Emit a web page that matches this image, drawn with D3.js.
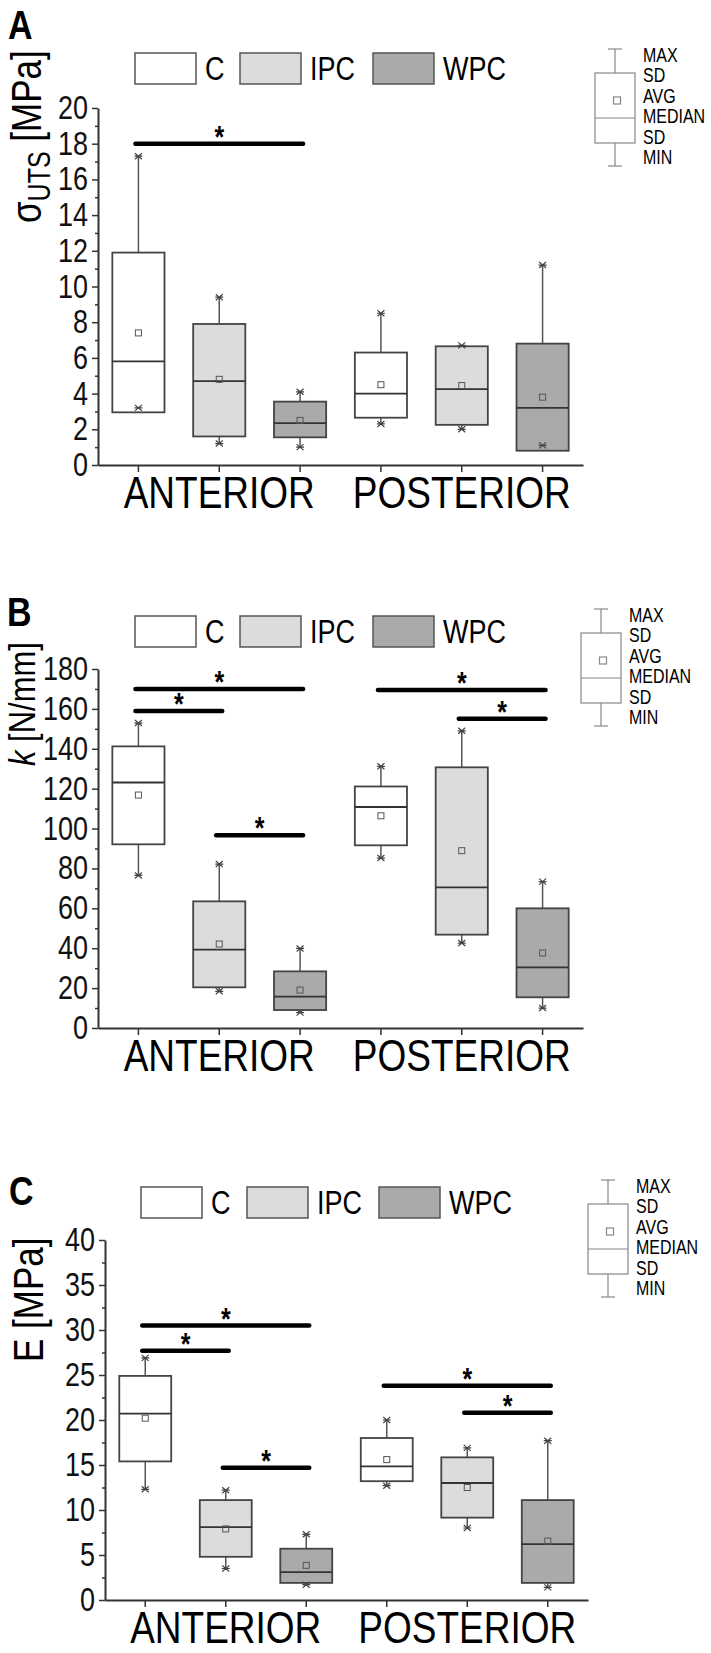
<!DOCTYPE html>
<html>
<head>
<meta charset="utf-8">
<script src="https://cdn.jsdelivr.net/npm/d3@7"></script>
<style>
  body { margin: 0; background: #fff; }
  text { font-family: "Liberation Sans", Arial, sans-serif; }
</style>
</head>
<body>
<div id="chart"></div>
<script>
// categories
const groups = ["C", "IPC", "WPC"];
const regions = ["ANTERIOR", "POSTERIOR"];
const slots = ["ANT-C", "ANT-IPC", "ANT-WPC", "POST-C", "POST-IPC", "POST-WPC"];
const keyLabels = ["MAX", "SD", "AVG", "MEDIAN", "SD", "MIN"];

// A: ultimate tensile strength [MPa]
const utsMax    = [17.3, 9.4, 4.1, 8.5, 6.7, 11.2];
const utsSdTop  = [11.9, 7.9, 3.55, 6.3, 6.65, 6.8];
const utsMean   = [7.4, 4.8, 2.5, 4.5, 4.45, 3.8];
const utsMedian = [5.8, 4.7, 2.35, 4.0, 4.25, 3.2];
const utsSdBot  = [2.95, 1.6, 1.55, 2.65, 2.25, 0.8];
const utsMin    = [3.2, 1.2, 1.0, 2.3, 2.0, 1.1];
const utsSig    = [[0, 2, 18.0]];
const utsTicks  = [0, 2, 4, 6, 8, 10, 12, 14, 16, 18, 20];
const utsMinor  = [1, 3, 5, 7, 9, 11, 13, 15, 17, 19];

// B: stiffness k [N/mm]
const kMax    = [152.9, 82.2, 39.9, 131.2, 149.0, 73.4];
const kSdTop  = [141.2, 63.5, 28.4, 121.1, 130.7, 60.0];
const kMean   = [116.8, 42.1, 19.0, 106.4, 88.9, 37.6];
const kMedian = [123.1, 39.3, 15.7, 110.8, 70.5, 30.4];
const kSdBot  = [92.1, 20.4, 9.0, 91.6, 46.8, 15.4];
const kMin    = [76.5, 18.4, 7.7, 85.2, 42.6, 10.0];
const kSig    = [[0, 2, 170], [0, 1, 159], [1, 2, 96.6], [3, 5, 169.5], [4, 5, 155]];
const kTicks  = [0, 20, 40, 60, 80, 100, 120, 140, 160, 180];
const kMinor  = [10, 30, 50, 70, 90, 110, 130, 150, 170];

// C: elastic modulus E [MPa]
const eMax    = [26.9, 12.2, 7.3, 20.0, 16.9, 17.7];
const eSdTop  = [24.9, 11.1, 5.7, 18.0, 15.85, 11.1];
const eMean   = [20.2, 7.9, 3.85, 15.6, 12.5, 6.55];
const eMedian = [20.7, 8.1, 3.1, 14.85, 13.0, 6.2];
const eSdBot  = [15.4, 4.8, 1.9, 13.2, 9.15, 1.9];
const eMin    = [12.3, 3.5, 1.7, 12.7, 8.0, 1.4];
const eSig    = [[0, 2, 30.5], [0, 1, 27.7], [1, 2, 14.7], [3, 5, 23.8], [4, 5, 20.8]];
const eTicks  = [0, 5, 10, 15, 20, 25, 30, 35, 40];
const eMinor  = [2.5, 7.5, 12.5, 17.5, 22.5, 27.5, 32.5, 37.5];

const fills = ["#ffffff", "#dcdcdc", "#aaaaaa"];
const W = 711, H = 1653;
const STRETCH = 1.22; // the original lettering is tall and narrow

const svg = d3.select("#chart").append("svg")
  .attr("width", W).attr("height", H)
  .style("background", "#fff");

// move x/y into a transform so the glyphs can be drawn taller
function stretch(sel) {
  sel.each(function() {
    const t = d3.select(this);
    const x = +t.attr("x") || 0, y = +t.attr("y") || 0;
    t.attr("x", null).attr("y", null)
      .attr("transform", `translate(${x},${y}) scale(1,${STRETCH})`);
  });
}

function drawPanel(p) {
  const g = svg.append("g");
  const x = d3.scaleBand().domain(slots).range([p.x0, p.x1]);
  const y = d3.scaleLinear().domain([0, p.ticks[p.ticks.length - 1]]).range([p.y0, p.yTop]);
  const bw = x.bandwidth() * 0.645;
  const cx = i => x(slots[i]) + x.bandwidth() / 2;

  // panel letter
  g.append("text").attr("class", "s").attr("x", p.labelX).attr("y", p.labelY)
    .attr("font-size", 34).attr("font-weight", "bold").text(p.label);

  // legend
  groups.forEach((name, i) => {
    g.append("rect").attr("x", p.legX[i]).attr("y", p.legY)
      .attr("width", 61).attr("height", 31)
      .attr("fill", fills[i]).attr("stroke", "#555").attr("stroke-width", 1.5);
    g.append("text").attr("class", "s").attr("x", p.legX[i] + 70).attr("y", p.legY + 27)
      .attr("font-size", 27).text(name);
  });

  // box key
  const k = g.append("g").attr("stroke", "#888").attr("stroke-width", 1.2).attr("fill", "none");
  const kx = p.keyX, ky = p.keyY;
  k.append("line").attr("x1", kx).attr("x2", kx).attr("y1", ky).attr("y2", ky + 24);
  k.append("line").attr("x1", kx - 7).attr("x2", kx + 7).attr("y1", ky).attr("y2", ky);
  k.append("rect").attr("x", kx - 20).attr("y", ky + 24).attr("width", 40).attr("height", 70);
  k.append("line").attr("x1", kx - 20).attr("x2", kx + 20).attr("y1", ky + 69).attr("y2", ky + 69);
  k.append("rect").attr("x", kx - 1.5).attr("y", ky + 48).attr("width", 7).attr("height", 7);
  k.append("line").attr("x1", kx).attr("x2", kx).attr("y1", ky + 94).attr("y2", ky + 117);
  k.append("line").attr("x1", kx - 7).attr("x2", kx + 7).attr("y1", ky + 117).attr("y2", ky + 117);
  keyLabels.forEach((t, i) => {
    g.append("text").attr("class", "s").attr("x", kx + 28).attr("y", ky + 13 + i * 20.4)
      .attr("font-size", 16).text(t);
  });

  // axes
  g.append("g").attr("transform", `translate(${p.x0},0)`)
    .call(d3.axisLeft(y).tickValues(p.minor).tickSize(3).tickFormat(""))
    .call(s => s.select(".domain").remove())
    .call(s => s.selectAll("line").attr("stroke", "#333").attr("stroke-width", 1.5));

  const ya = g.append("g").attr("transform", `translate(${p.x0},0)`)
    .call(d3.axisLeft(y).tickValues(p.ticks).tickSize(6).tickSizeOuter(0).tickPadding(4));
  ya.attr("font-family", null).attr("font-size", null);
  ya.selectAll("text").attr("font-size", 27).attr("fill", "#111")
    .attr("transform", `scale(1,${STRETCH})`);
  ya.selectAll("line").attr("stroke", "#333").attr("stroke-width", 1.5);
  ya.select(".domain").attr("stroke", "#333").attr("stroke-width", 2);

  const xa = g.append("g").attr("transform", `translate(0,${p.y0})`)
    .call(d3.axisBottom(x).tickSize(7).tickSizeOuter(0).tickFormat(""));
  xa.selectAll("line").attr("stroke", "#333").attr("stroke-width", 1.5);
  xa.select(".domain").attr("stroke", "#333").attr("stroke-width", 2);

  regions.forEach((r, i) => {
    g.append("text").attr("class", "s").attr("x", cx(i * 3 + 1)).attr("y", p.y0 + 43)
      .attr("text-anchor", "middle").attr("font-size", 37).text(r);
  });

  // y title
  const t = g.append("text")
    .attr("transform", `translate(${p.titleX},${p.titleY}) rotate(-90) scale(1,${STRETCH})`)
    .attr("font-size", p.titleSize);
  p.title(t);

  // whiskers
  const wk = g.append("g").attr("stroke", "#555").attr("stroke-width", 1.5);
  slots.forEach((s, i) => {
    if (p.max[i] > p.sdTop[i])
      wk.append("line").attr("x1", cx(i)).attr("x2", cx(i)).attr("y1", y(p.sdTop[i])).attr("y2", y(p.max[i]));
    if (p.min[i] < p.sdBot[i])
      wk.append("line").attr("x1", cx(i)).attr("x2", cx(i)).attr("y1", y(p.sdBot[i])).attr("y2", y(p.min[i]));
  });

  // boxes
  g.append("g").selectAll("rect").data(slots).join("rect")
    .attr("x", (d, i) => cx(i) - bw / 2)
    .attr("width", bw)
    .attr("y", (d, i) => y(p.sdTop[i]))
    .attr("height", (d, i) => y(p.sdBot[i]) - y(p.sdTop[i]))
    .attr("fill", (d, i) => fills[i % 3])
    .attr("stroke", "#444").attr("stroke-width", 1.8);

  g.append("g").selectAll("line").data(slots).join("line")
    .attr("x1", (d, i) => cx(i) - bw / 2).attr("x2", (d, i) => cx(i) + bw / 2)
    .attr("y1", (d, i) => y(p.median[i])).attr("y2", (d, i) => y(p.median[i]))
    .attr("stroke", "#333").attr("stroke-width", 1.8);

  // mean squares
  g.append("g").selectAll("rect").data(slots).join("rect")
    .attr("x", (d, i) => cx(i) - 3).attr("y", (d, i) => y(p.mean[i]) - 3)
    .attr("width", 6).attr("height", 6)
    .attr("fill", "none").attr("stroke", "#555").attr("stroke-width", 1);

  // max / min markers
  const star = "M-4,0H4M-3.5,-3L3.5,3M-3.5,3L3.5,-3";
  const mk = g.append("g").attr("stroke", "#444").attr("stroke-width", 1.2).attr("fill", "none");
  slots.forEach((s, i) => {
    mk.append("path").attr("d", star).attr("transform", `translate(${cx(i)},${y(p.max[i])})`);
    mk.append("path").attr("d", star).attr("transform", `translate(${cx(i)},${y(p.min[i])})`);
  });

  // significance bars
  p.sig.forEach(([a, b, v]) => {
    g.append("line").attr("x1", cx(a) - 3).attr("x2", cx(b) + 3)
      .attr("y1", y(v)).attr("y2", y(v))
      .attr("stroke", "#000").attr("stroke-width", 4.5).attr("stroke-linecap", "round");
    g.append("text").attr("class", "s").attr("x", (cx(a) + cx(b)) / 2).attr("y", y(v) + 4)
      .attr("text-anchor", "middle").attr("font-size", 25).attr("font-weight", "bold")
      .text("*");
  });

  stretch(g.selectAll("text.s"));
}

drawPanel({
  label: "A", labelX: 8, labelY: 39,
  x0: 98, x1: 583, y0: 465, yTop: 108,
  ticks: utsTicks, minor: utsMinor,
  max: utsMax, sdTop: utsSdTop, mean: utsMean, median: utsMedian, sdBot: utsSdBot, min: utsMin,
  sig: utsSig,
  legX: [135, 240, 373], legY: 53,
  keyX: 615, keyY: 49,
  titleX: 41, titleY: 223, titleSize: 35,
  title: t => {
    t.append("tspan").text("σ");
    t.append("tspan").attr("font-size", 25).attr("dy", 7).text("UTS");
    t.append("tspan").attr("dy", -7).text(" [MPa]");
  }
});

drawPanel({
  label: "B", labelX: 7, labelY: 626,
  x0: 98, x1: 583, y0: 1028, yTop: 669,
  ticks: kTicks, minor: kMinor,
  max: kMax, sdTop: kSdTop, mean: kMean, median: kMedian, sdBot: kSdBot, min: kMin,
  sig: kSig,
  legX: [135, 240, 373], legY: 616,
  keyX: 601, keyY: 609,
  titleX: 35, titleY: 766, titleSize: 31,
  title: t => {
    t.append("tspan").attr("font-style", "italic").text("k");
    t.append("tspan").text(" [N/mm]");
  }
});

drawPanel({
  label: "C", labelX: 9, labelY: 1205,
  x0: 105, x1: 588, y0: 1600, yTop: 1240,
  ticks: eTicks, minor: eMinor,
  max: eMax, sdTop: eSdTop, mean: eMean, median: eMedian, sdBot: eSdBot, min: eMin,
  sig: eSig,
  legX: [141, 247, 379], legY: 1187,
  keyX: 608, keyY: 1180,
  titleX: 43, titleY: 1362, titleSize: 35,
  title: t => {
    t.append("tspan").text("E [MPa]");
  }
});
</script>
</body>
</html>
